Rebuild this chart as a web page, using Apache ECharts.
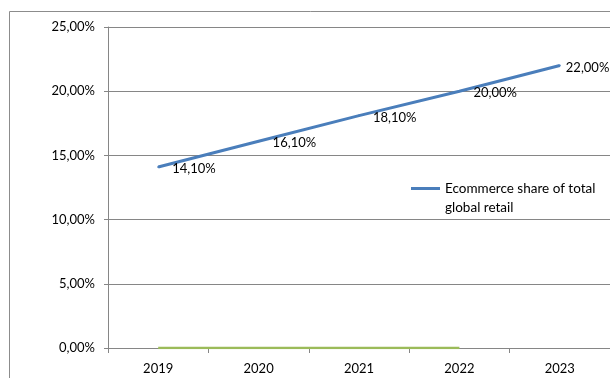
<!DOCTYPE html>
<html><head><meta charset="utf-8">
<script src="https://cdn.jsdelivr.net/npm/echarts@6/dist/echarts.min.js"></script>
<style>html,body{margin:0;padding:0;background:#fff}#c{width:610px;height:378px}</style>
</head><body><div id="c"></div>
<script>
var categories = ['2019', '2020', '2021', '2022', '2023'];
var shareValues = [14.1, 16.1, 18.1, 20.0, 22.0];
var secondValues = [0, 0, 0, 0, null];
var yTicks = [0, 5, 10, 15, 20, 25];
var seriesName = 'Ecommerce share of total global retail';

function pct(v) { return v.toFixed(2).replace('.', ',') + '%'; }

var chart = echarts.init(document.getElementById('c'));
var FONT = 'Lato';
chart.setOption({
  animation: false,
  backgroundColor: '#fff',
  graphic: [{
    type: 'rect', shape: { x: 9.5, y: 11.5, width: 700, height: 500 },
    style: { fill: 'none', stroke: '#8c8c8c', lineWidth: 1 }, silent: true, z: -1
  }],
  grid: { left: 108, top: 27, right: -4, bottom: 30, containLabel: false },
  legend: {
    data: [{ name: seriesName, icon: 'rect' }], left: 411, top: 160, padding: 0,
    itemWidth: 29, itemHeight: 3,
    formatter: function () { return '\nEcommerce share of total\nglobal retail'; },
    textStyle: { fontFamily: FONT, fontSize: 13.5, color: '#000', lineHeight: 19 }
  },
  xAxis: {
    type: 'category', data: categories, boundaryGap: true,
    axisLine: { lineStyle: { color: '#868686' } },
    axisTick: { show: true, length: 5, lineStyle: { color: '#868686' } },
    axisLabel: { fontFamily: FONT, fontSize: 13, color: '#000', margin: 14 }
  },
  yAxis: {
    type: 'value', min: yTicks[0], max: yTicks[yTicks.length - 1], interval: 5,
    axisLine: { show: true, lineStyle: { color: '#868686' } },
    axisTick: { show: true, length: 4, lineStyle: { color: '#868686' } },
    splitLine: { lineStyle: { color: '#868686' } },
    axisLabel: { fontFamily: FONT, fontSize: 13, color: '#000', margin: 13, formatter: pct }
  },
  series: [{
    name: seriesName, type: 'line', data: shareValues.map(function (v, i) {
      var d = { value: v };
      if (i === shareValues.length - 1) d.label = { distance: 5 };
      return d;
    }),
    symbol: 'circle', symbolSize: 2, showSymbol: true,
    itemStyle: { color: '#4A7EBB' },
    lineStyle: { color: '#4A7EBB', width: 3 },
    label: {
      show: true, position: 'right', distance: 13, offset: [0, 2],
      fontFamily: FONT, fontSize: 13, color: '#000',
      formatter: function (p) { return pct(p.value); }
    },
    z: 3
  }, {
    name: 'second', type: 'line', data: secondValues,
    symbol: 'none', itemStyle: { color: '#9BBB59' },
    lineStyle: { color: '#9BBB59', width: 2.5 }, z: 4
  }]
});
</script></body></html>
